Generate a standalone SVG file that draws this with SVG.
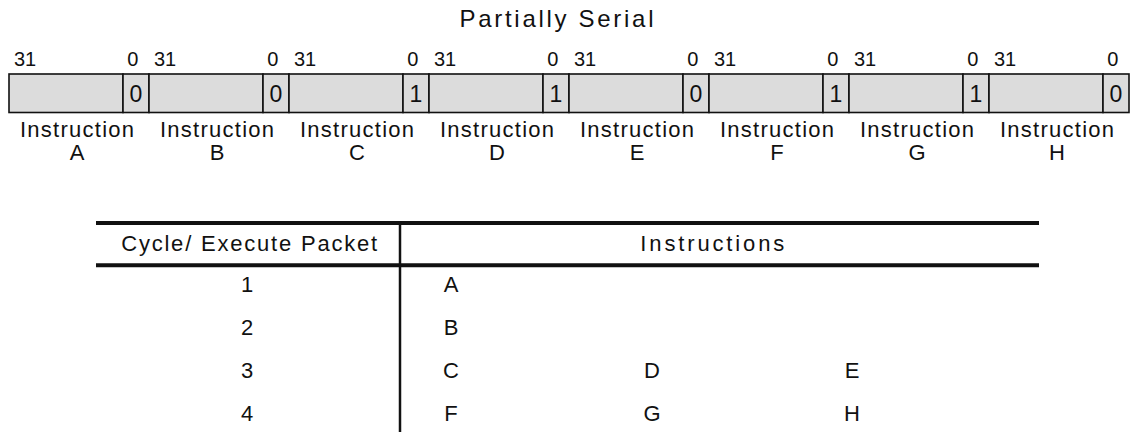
<svg xmlns="http://www.w3.org/2000/svg" width="1130" height="432" viewBox="0 0 1130 432">
  <style>
    text { font-family: "Liberation Sans", Arial, sans-serif; fill: #111; }
    .title { font-size: 24px; text-anchor: middle; }
    .bit { font-size: 20px; }
    .bitc { font-size: 20px; text-anchor: middle; }
    .pbit { font-size: 23px; text-anchor: middle; }
    .lbl { font-size: 22px; text-anchor: middle; }
    .field { fill: #dcdcdc; stroke: #111; stroke-width: 1.6; }
    .th { font-size: 22px; text-anchor: middle; }
    .td { font-size: 22px; text-anchor: middle; }
    .rule { stroke: #111; stroke-width: 4; }
    .vrule { stroke: #111; stroke-width: 2.5; }
  </style>

  <text class="title" x="556.5" y="27" textLength="194" lengthAdjust="spacing">Partially Serial</text>

  <!-- 32-bit instruction words; the small cell holds the p-bit (bit 0) -->
  <g id="instr-A">
    <text class="bit" x="14" y="66">31</text><text class="bitc" x="132.7" y="66">0</text>
    <rect class="field" x="9" y="74" width="114" height="38.5"/>
    <rect class="field" x="123" y="74" width="26" height="38.5"/>
    <text class="pbit" x="136" y="101.7">0</text>
    <text class="lbl" x="77" y="137" textLength="114" lengthAdjust="spacing">Instruction</text>
    <text class="lbl" x="77" y="160">A</text>
  </g>
  <g id="instr-B">
    <text class="bit" x="154" y="66">31</text><text class="bitc" x="272.7" y="66">0</text>
    <rect class="field" x="149" y="74" width="114" height="38.5"/>
    <rect class="field" x="263" y="74" width="26" height="38.5"/>
    <text class="pbit" x="276" y="101.7">0</text>
    <text class="lbl" x="217" y="137" textLength="114" lengthAdjust="spacing">Instruction</text>
    <text class="lbl" x="217" y="160">B</text>
  </g>
  <g id="instr-C">
    <text class="bit" x="294" y="66">31</text><text class="bitc" x="412.7" y="66">0</text>
    <rect class="field" x="289" y="74" width="114" height="38.5"/>
    <rect class="field" x="403" y="74" width="26" height="38.5"/>
    <text class="pbit" x="416" y="101.7">1</text>
    <text class="lbl" x="357" y="137" textLength="114" lengthAdjust="spacing">Instruction</text>
    <text class="lbl" x="357" y="160">C</text>
  </g>
  <g id="instr-D">
    <text class="bit" x="434" y="66">31</text><text class="bitc" x="552.7" y="66">0</text>
    <rect class="field" x="429" y="74" width="114" height="38.5"/>
    <rect class="field" x="543" y="74" width="26" height="38.5"/>
    <text class="pbit" x="556" y="101.7">1</text>
    <text class="lbl" x="497" y="137" textLength="114" lengthAdjust="spacing">Instruction</text>
    <text class="lbl" x="497" y="160">D</text>
  </g>
  <g id="instr-E">
    <text class="bit" x="574" y="66">31</text><text class="bitc" x="692.7" y="66">0</text>
    <rect class="field" x="569" y="74" width="114" height="38.5"/>
    <rect class="field" x="683" y="74" width="26" height="38.5"/>
    <text class="pbit" x="696" y="101.7">0</text>
    <text class="lbl" x="637" y="137" textLength="114" lengthAdjust="spacing">Instruction</text>
    <text class="lbl" x="637" y="160">E</text>
  </g>
  <g id="instr-F">
    <text class="bit" x="714" y="66">31</text><text class="bitc" x="832.7" y="66">0</text>
    <rect class="field" x="709" y="74" width="114" height="38.5"/>
    <rect class="field" x="823" y="74" width="26" height="38.5"/>
    <text class="pbit" x="836" y="101.7">1</text>
    <text class="lbl" x="777" y="137" textLength="114" lengthAdjust="spacing">Instruction</text>
    <text class="lbl" x="777" y="160">F</text>
  </g>
  <g id="instr-G">
    <text class="bit" x="854" y="66">31</text><text class="bitc" x="972.7" y="66">0</text>
    <rect class="field" x="849" y="74" width="114" height="38.5"/>
    <rect class="field" x="963" y="74" width="26" height="38.5"/>
    <text class="pbit" x="976" y="101.7">1</text>
    <text class="lbl" x="917" y="137" textLength="114" lengthAdjust="spacing">Instruction</text>
    <text class="lbl" x="917" y="160">G</text>
  </g>
  <g id="instr-H">
    <text class="bit" x="994" y="66">31</text><text class="bitc" x="1112.7" y="66">0</text>
    <rect class="field" x="989" y="74" width="114" height="38.5"/>
    <rect class="field" x="1103" y="74" width="26" height="38.5"/>
    <text class="pbit" x="1116" y="101.7">0</text>
    <text class="lbl" x="1057" y="137" textLength="114" lengthAdjust="spacing">Instruction</text>
    <text class="lbl" x="1057" y="160">H</text>
  </g>

  <!-- execute packet table -->
  <g id="packet-table">
    <line class="rule" x1="96" y1="223" x2="1039" y2="223"/>
    <line class="rule" x1="96" y1="265.3" x2="1039" y2="265.3"/>
    <line class="vrule" x1="400" y1="221" x2="400" y2="432"/>
    <text class="th" x="249.2" y="251" textLength="256" lengthAdjust="spacing">Cycle/ Execute Packet</text>
    <text class="th" x="712.3" y="251" textLength="144" lengthAdjust="spacing">Instructions</text>

    <text class="td" x="247" y="292">1</text>
    <text class="td" x="451" y="292">A</text>

    <text class="td" x="247" y="335">2</text>
    <text class="td" x="451" y="335">B</text>

    <text class="td" x="247" y="378">3</text>
    <text class="td" x="451" y="378">C</text>
    <text class="td" x="652" y="378">D</text>
    <text class="td" x="852" y="378">E</text>

    <text class="td" x="247" y="421">4</text>
    <text class="td" x="451" y="421">F</text>
    <text class="td" x="652" y="421">G</text>
    <text class="td" x="852" y="421">H</text>
  </g>
</svg>
